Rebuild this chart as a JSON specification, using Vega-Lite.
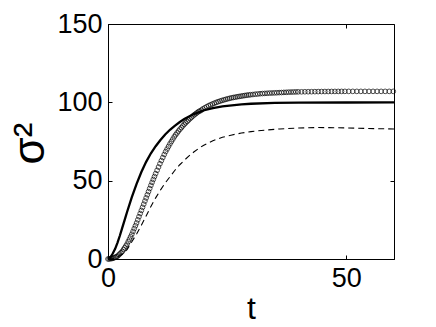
{
  "$schema": "https://vega.github.io/schema/vega-lite/v6.json",
  "autosize": "none",
  "width": 286,
  "height": 235,
  "padding": {"left": 108, "top": 24, "right": 42, "bottom": 68},
  "background": "white",
  "config": {
    "view": {"stroke": "black", "strokeWidth": 1},
    "font": "Liberation Sans",
    "axis": {
      "domainColor": "black",
      "tickColor": "black",
      "labelColor": "black",
      "titleColor": "black",
      "grid": false,
      "labelFont": "Liberation Sans",
      "titleFont": "Liberation Sans",
      "labelFontSize": 27,
      "labelFlush": false,
      "titleFontWeight": "normal",
      "tickSize": -4
    },
    "axisX": {"labelPadding": 10},
    "axisY": {"labelPadding": 10}
  },
  "datasets": {
    "solid": [
      {"t": 0, "v": 0}, {"t": 0.5, "v": 1}, {"t": 1, "v": 3.5}, {"t": 1.5, "v": 6.5},
      {"t": 2, "v": 10.5}, {"t": 2.5, "v": 15}, {"t": 3, "v": 20}, {"t": 3.5, "v": 25},
      {"t": 4, "v": 30}, {"t": 5, "v": 39.5}, {"t": 6, "v": 48}, {"t": 7, "v": 55.5},
      {"t": 8, "v": 62}, {"t": 9, "v": 67.5}, {"t": 10, "v": 72}, {"t": 11, "v": 76},
      {"t": 12, "v": 79.5}, {"t": 13, "v": 82.5}, {"t": 14, "v": 85}, {"t": 15, "v": 87.3},
      {"t": 16, "v": 89.3}, {"t": 17, "v": 91}, {"t": 18, "v": 92.5}, {"t": 20, "v": 94.8},
      {"t": 22, "v": 96.3}, {"t": 24, "v": 97.4}, {"t": 26, "v": 98.1}, {"t": 28, "v": 98.7},
      {"t": 30, "v": 99.1}, {"t": 35, "v": 99.6}, {"t": 40, "v": 99.8}, {"t": 50, "v": 99.9},
      {"t": 60, "v": 100}
    ],
    "dashed": [
      {"t": 0, "v": 0}, {"t": 1, "v": 0.3}, {"t": 2, "v": 1.3}, {"t": 3, "v": 3},
      {"t": 4, "v": 6}, {"t": 5, "v": 11}, {"t": 6, "v": 16}, {"t": 7, "v": 21.5},
      {"t": 8, "v": 27.5}, {"t": 9, "v": 33.5}, {"t": 10, "v": 39}, {"t": 11, "v": 44},
      {"t": 12, "v": 48.5}, {"t": 13, "v": 52.5}, {"t": 14, "v": 56.5}, {"t": 15, "v": 60},
      {"t": 16, "v": 63}, {"t": 17, "v": 65.8}, {"t": 18, "v": 68.3}, {"t": 19, "v": 70.5},
      {"t": 20, "v": 72.5}, {"t": 22, "v": 75.5}, {"t": 24, "v": 77.7}, {"t": 26, "v": 79.2},
      {"t": 28, "v": 80.4}, {"t": 30, "v": 81.3}, {"t": 33, "v": 82.3}, {"t": 36, "v": 83},
      {"t": 40, "v": 83.6}, {"t": 44, "v": 83.9}, {"t": 48, "v": 83.8}, {"t": 52, "v": 83.5},
      {"t": 56, "v": 83.2}, {"t": 60, "v": 83}
    ],
    "circles": [
      {"t": 0, "v": 0}, {"t": 0.25, "v": 0.1}, {"t": 0.5, "v": 0.2}, {"t": 0.75, "v": 0.3},
      {"t": 1, "v": 0.4}, {"t": 1.25, "v": 0.75}, {"t": 1.5, "v": 1.1}, {"t": 1.75, "v": 1.45},
      {"t": 2, "v": 1.8}, {"t": 2.25, "v": 2.55}, {"t": 2.5, "v": 3.3}, {"t": 2.75, "v": 4.05},
      {"t": 3, "v": 4.8}, {"t": 3.25, "v": 6}, {"t": 3.5, "v": 7.15}, {"t": 3.75, "v": 8.3},
      {"t": 4, "v": 9.5}, {"t": 4.25, "v": 11.1}, {"t": 4.5, "v": 12.65}, {"t": 4.75, "v": 14.2},
      {"t": 5, "v": 15.8}, {"t": 5.25, "v": 17.6}, {"t": 5.5, "v": 19.4}, {"t": 5.75, "v": 21.2},
      {"t": 6, "v": 23}, {"t": 6.25, "v": 25}, {"t": 6.5, "v": 27}, {"t": 6.75, "v": 29},
      {"t": 7, "v": 31}, {"t": 7.25, "v": 33}, {"t": 7.5, "v": 35}, {"t": 7.75, "v": 37},
      {"t": 8, "v": 39}, {"t": 8.25, "v": 41}, {"t": 8.5, "v": 43}, {"t": 8.75, "v": 45},
      {"t": 9, "v": 47}, {"t": 9.25, "v": 48.9}, {"t": 9.5, "v": 50.75}, {"t": 9.75, "v": 52.6},
      {"t": 10, "v": 54.5},
      {"t": 10.3, "v": 56.6}, {"t": 10.6, "v": 58.7}, {"t": 10.9, "v": 60.8}, {"t": 11.2, "v": 62.8},
      {"t": 11.5, "v": 64.75}, {"t": 11.8, "v": 66.7}, {"t": 12.1, "v": 68.55}, {"t": 12.4, "v": 70.2},
      {"t": 12.7, "v": 71.85}, {"t": 13, "v": 73.5}, {"t": 13.3, "v": 75}, {"t": 13.6, "v": 76.5},
      {"t": 13.9, "v": 78}, {"t": 14.2, "v": 79.3}, {"t": 14.5, "v": 80.5}, {"t": 14.8, "v": 81.7},
      {"t": 15.1, "v": 82.85}, {"t": 15.4, "v": 83.9}, {"t": 15.7, "v": 84.95}, {"t": 16, "v": 86},
      {"t": 16.3, "v": 86.9}, {"t": 16.6, "v": 87.8}, {"t": 16.9, "v": 88.7}, {"t": 17.2, "v": 89.55},
      {"t": 17.5, "v": 90.4}, {"t": 17.8, "v": 91.25}, {"t": 18.1, "v": 92.05}, {"t": 18.4, "v": 92.7},
      {"t": 18.7, "v": 93.4}, {"t": 19, "v": 94.1}, {"t": 19.3, "v": 94.5}, {"t": 19.6, "v": 95.05},
      {"t": 19.9, "v": 95.8},
      {"t": 20.3, "v": 96.5}, {"t": 20.7, "v": 97.2}, {"t": 21.1, "v": 97.85}, {"t": 21.5, "v": 98.4},
      {"t": 21.9, "v": 98.95}, {"t": 22.3, "v": 99.45}, {"t": 22.7, "v": 99.95}, {"t": 23.1, "v": 100.4},
      {"t": 23.5, "v": 100.8}, {"t": 23.9, "v": 101.2}, {"t": 24.3, "v": 101.55}, {"t": 24.7, "v": 101.9},
      {"t": 25.1, "v": 102.25}, {"t": 25.5, "v": 102.55}, {"t": 25.9, "v": 102.85}, {"t": 26.3, "v": 103.1},
      {"t": 26.7, "v": 103.3}, {"t": 27.1, "v": 103.55}, {"t": 27.5, "v": 103.75}, {"t": 27.9, "v": 103.95},
      {"t": 28.3, "v": 104.15}, {"t": 28.7, "v": 104.35}, {"t": 29.1, "v": 104.55}, {"t": 29.5, "v": 104.7},
      {"t": 29.9, "v": 104.85},
      {"t": 30.4, "v": 105}, {"t": 30.9, "v": 105.2}, {"t": 31.4, "v": 105.3}, {"t": 31.9, "v": 105.5},
      {"t": 32.4, "v": 105.6}, {"t": 32.9, "v": 105.7}, {"t": 33.4, "v": 105.8}, {"t": 33.9, "v": 105.9},
      {"t": 34.4, "v": 105.95}, {"t": 34.9, "v": 106.05}, {"t": 35.4, "v": 106.1}, {"t": 35.9, "v": 106.2},
      {"t": 36.4, "v": 106.25}, {"t": 36.9, "v": 106.35}, {"t": 37.4, "v": 106.4}, {"t": 37.9, "v": 106.5},
      {"t": 38.4, "v": 106.55}, {"t": 38.9, "v": 106.6}, {"t": 39.4, "v": 106.65}, {"t": 39.9, "v": 106.7},
      {"t": 40.6, "v": 106.72}, {"t": 41.3, "v": 106.75}, {"t": 42, "v": 106.78}, {"t": 42.7, "v": 106.8},
      {"t": 43.4, "v": 106.83}, {"t": 44.1, "v": 106.86}, {"t": 44.8, "v": 106.89}, {"t": 45.5, "v": 106.9},
      {"t": 46.2, "v": 106.92}, {"t": 46.9, "v": 106.94}, {"t": 47.6, "v": 106.96}, {"t": 48.3, "v": 106.97},
      {"t": 49, "v": 106.98}, {"t": 49.7, "v": 107},
      {"t": 50.5, "v": 107}, {"t": 51.35, "v": 107}, {"t": 52.2, "v": 107}, {"t": 53.05, "v": 107},
      {"t": 53.9, "v": 107}, {"t": 54.75, "v": 107}, {"t": 55.6, "v": 107}, {"t": 56.45, "v": 107},
      {"t": 57.3, "v": 107}, {"t": 58.15, "v": 107}, {"t": 59, "v": 107}, {"t": 59.85, "v": 107}
    ]
  },
  "resolve": {"axis": {"x": "independent", "y": "independent"}},
  "layer": [
    {
      "data": {"name": "solid"},
      "mark": {"type": "line", "color": "black", "strokeWidth": 2.3},
      "encoding": {
        "x": {"field": "t", "type": "quantitative",
              "scale": {"domain": [0, 60], "nice": false, "zero": false},
              "axis": {"orient": "bottom", "values": [0, 50], "title": "t", "titleFontSize": 32,
                       "titleBaseline": "alphabetic", "titleY": 59}},
        "y": {"field": "v", "type": "quantitative",
              "scale": {"domain": [0, 150], "nice": false},
              "axis": {"orient": "left", "values": [0, 50, 100, 150], "title": "σ²", "titleFontSize": 44,
                       "titleBaseline": "alphabetic", "titleX": -65, "titleY": 119, "titleAngle": -90}}
      }
    },
    {
      "data": {"name": "dashed"},
      "mark": {"type": "line", "color": "black", "strokeWidth": 1.1, "strokeDash": [6, 4]},
      "encoding": {
        "x": {"field": "t", "type": "quantitative", "axis": null},
        "y": {"field": "v", "type": "quantitative", "axis": null}
      }
    },
    {
      "data": {"name": "circles"},
      "mark": {"type": "point", "shape": "circle", "filled": false, "color": "black", "strokeWidth": 1, "size": 22, "clip": false},
      "encoding": {
        "x": {"field": "t", "type": "quantitative",
              "axis": {"orient": "top", "values": [0, 50], "labels": false, "title": null, "domain": false}},
        "y": {"field": "v", "type": "quantitative",
              "axis": {"orient": "right", "values": [0, 50, 100, 150], "labels": false, "title": null, "domain": false}}
      }
    }
  ]
}
